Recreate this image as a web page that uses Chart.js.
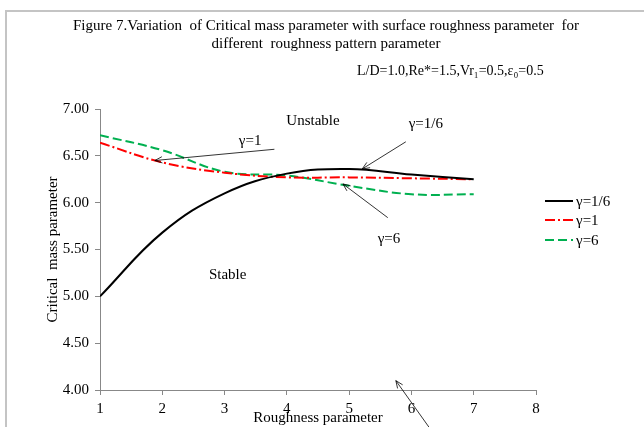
<!DOCTYPE html>
<html>
<head>
<meta charset="utf-8">
<script src="https://cdn.jsdelivr.net/npm/chart.js@4.4.1/dist/chart.umd.min.js"></script>
<style>
  body { margin: 0; background: #fff; }
  #wrap { width: 644px; height: 427px; }
</style>
</head>
<body>
<div id="wrap"><canvas id="roughChart" width="644" height="427"></canvas></div>
<script>
// valori
const roughness = [1, 2, 3, 4, 5, 6, 7];
const gammaSixth = [5.00, 5.68, 6.10, 6.31, 6.36, 6.30, 6.25];
const gammaOne = [6.64, 6.43, 6.32, 6.27, 6.27, 6.26, 6.25];
const gammaSix = [6.72, 6.56, 6.33, 6.29, 6.18, 6.09, 6.09];
const seriesLabels = ['γ=1/6', 'γ=1', 'γ=6'];
const yTicks = [4.0, 4.5, 5.0, 5.5, 6.0, 6.5, 7.0];

const titleLines = [
  'Figure 7.Variation  of Critical mass parameter with surface roughness parameter  for',
  'different  roughness pattern parameter'
];
const paramText = 'L/D=1.0,Re*=1.5,Vr₁=0.5,ε₀=0.5';

// testi e frecce in coordinate dei dati
const notes = [
  { text: 'Unstable', x: 4.42, y: 6.87 },
  { text: 'Stable', x: 3.05, y: 5.23 },
  { text: 'γ=1', x: 3.41, y: 6.66 },
  { text: 'γ=1/6', x: 6.23, y: 6.84 },
  { text: 'γ=6', x: 5.64, y: 5.61 }
];
const arrows = [
  { x0: 3.80, y0: 6.57, x1: 1.88, y1: 6.45 },
  { x0: 5.91, y0: 6.65, x1: 5.21, y1: 6.36 },
  { x0: 5.62, y0: 5.84, x1: 4.90, y1: 6.20 },
  { x0: 6.36, y0: 3.53, x1: 5.75, y1: 4.10 }
];

const serif = '"Liberation Serif", "DejaVu Serif", serif';

function toPoints(vals) {
  return roughness.map((x, i) => ({ x: x, y: vals[i] }));
}

const decorPlugin = {
  id: 'decor',
  beforeDraw(chart) {
    const c = chart.ctx;
    c.save();
    // cornice grigia della pagina
    c.strokeStyle = '#c4c4c4';
    c.lineWidth = 2;
    c.beginPath();
    c.moveTo(6, 427);
    c.lineTo(6, 11);
    c.lineTo(644, 11);
    c.stroke();

    c.fillStyle = '#000';
    c.font = '15px ' + serif;
    c.textAlign = 'center';
    c.textBaseline = 'middle';
    c.fillText(titleLines[0], 326, 26);
    c.fillText(titleLines[1], 326, 44);
    c.font = '14px ' + serif;
    c.textAlign = 'left';
    c.fillText(paramText, 357, 71);
    c.restore();
  },
  afterDraw(chart) {
    const c = chart.ctx;
    const xs = chart.scales.x, ys = chart.scales.y;
    c.save();
    c.fillStyle = '#000';
    c.font = '15px ' + serif;
    c.textAlign = 'center';
    c.textBaseline = 'middle';
    notes.forEach(n => c.fillText(n.text, xs.getPixelForValue(n.x), ys.getPixelForValue(n.y)));

    // frecce
    c.strokeStyle = '#000';
    c.lineWidth = 0.8;
    arrows.forEach(a => {
      const px0 = xs.getPixelForValue(a.x0), py0 = ys.getPixelForValue(a.y0);
      const px1 = xs.getPixelForValue(a.x1), py1 = ys.getPixelForValue(a.y1);
      c.beginPath();
      c.moveTo(px0, py0);
      c.lineTo(px1, py1);
      const ang = Math.atan2(py1 - py0, px1 - px0);
      const L = 8;
      c.moveTo(px1 - L * Math.cos(ang - 0.4), py1 - L * Math.sin(ang - 0.4));
      c.lineTo(px1, py1);
      c.lineTo(px1 - L * Math.cos(ang + 0.4), py1 - L * Math.sin(ang + 0.4));
      c.stroke();
    });

    // legenda
    const lx = 545, ly = [201, 220, 240];
    chart.data.datasets.forEach((ds, i) => {
      c.strokeStyle = ds.borderColor;
      c.lineWidth = ds.borderWidth;
      c.setLineDash(ds.borderDash || []);
      c.beginPath();
      c.moveTo(lx, ly[i]);
      c.lineTo(lx + 28, ly[i]);
      c.stroke();
      c.setLineDash([]);
      c.textAlign = 'left';
      c.fillStyle = '#000';
      c.fillText(ds.label, lx + 31, ly[i] + 1);
    });
    c.restore();
  }
};

const ctx = document.getElementById('roughChart').getContext('2d');

const roughChart = new Chart(ctx, {
  type: 'line',
  data: {
    datasets: [
      {
        label: seriesLabels[0],
        data: toPoints(gammaSixth),
        borderColor: '#000000',
        borderWidth: 2,
        pointRadius: 0,
        tension: 0.4
      },
      {
        label: seriesLabels[1],
        data: toPoints(gammaOne),
        borderColor: '#ff0000',
        borderWidth: 2,
        borderDash: [10, 3, 2, 3],
        pointRadius: 0,
        tension: 0.4
      },
      {
        label: seriesLabels[2],
        data: toPoints(gammaSix),
        borderColor: '#00b050',
        borderWidth: 2,
        borderDash: [9, 4],
        pointRadius: 0,
        tension: 0.4
      }
    ]
  },
  options: {
    responsive: false,
    animation: false,
    layout: { padding: { left: 40, right: 108, top: 109, bottom: 0 } },
    plugins: {
      legend: { display: false },
      tooltip: { enabled: false }
    },
    scales: {
      x: {
        type: 'linear',
        min: 1,
        max: 8,
        ticks: {
          stepSize: 1,
          color: '#000',
          padding: 5,
          font: { family: serif, size: 15 }
        },
        grid: { drawOnChartArea: false, tickLength: 5, color: '#888' },
        border: { color: '#888' },
        title: {
          display: true,
          text: 'Roughness parameter',
          color: '#000',
          padding: { top: -9, bottom: 0 },
          font: { family: serif, size: 15 }
        },
        afterFit(scale) { scale.height = 37; }
      },
      y: {
        min: 4,
        max: 7,
        afterBuildTicks(scale) { scale.ticks = yTicks.map(v => ({ value: v })); },
        ticks: {
          color: '#000',
          padding: 6,
          font: { family: serif, size: 15 },
          callback: v => Number(v).toFixed(2)
        },
        grid: { drawOnChartArea: false, tickLength: 5, color: '#888' },
        border: { color: '#888' },
        title: {
          display: true,
          text: 'Critical  mass parameter',
          color: '#000',
          font: { family: serif, size: 15 }
        },
        afterFit(scale) { scale.width = 60; }
      }
    }
  },
  plugins: [decorPlugin]
});
</script>
</body>
</html>
